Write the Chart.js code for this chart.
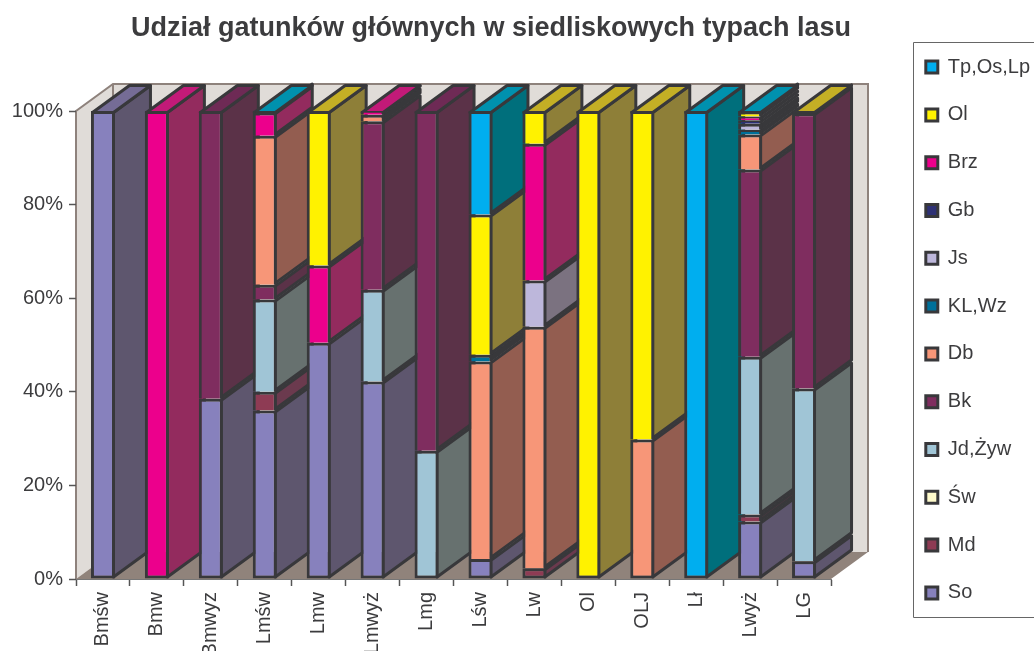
<!DOCTYPE html>
<html><head><meta charset="utf-8">
<style>html,body{margin:0;padding:0;background:#fff;overflow:hidden}canvas{display:block}</style>
<script src="https://cdn.jsdelivr.net/npm/chart.js@4"></script>
</head><body><canvas id="c" width="1034" height="651"></canvas>
<script>
const categories=['Bmśw','Bmw','Bmwyz','Lmśw','Lmw','Lmwyż','Lmg','Lśw','Lw','Ol','OLJ','Lł','Lwyż','LG'];
const seriesNames=['So','Md','Św','Jd,Żyw','Bk','Db','KL,Wz','Js','Gb','Brz','Ol','Tp,Os,Lp'];
const So =[100,0,38.5,36,50.5,42.2,0,4.3,0,0,0,0,12.3,3.8];
const Md =[0,0,0,4,0,0,0,0,2.3,0,0,0,1.5,0];
const Sw =[0,0,0,0,0,0,0,0,0,0,0,0,0,0];
const JdZyw=[0,0,0,19.7,0,19.6,27.4,0,0,0,0,0,33.7,36.9];
const Bk =[0,0,61.5,3.2,0,36,72.6,0,0,0,0,0,40,58.8];
const Db =[0,0,0,31.8,0,1.4,0,42.2,51.6,0,29.8,0,7.5,0];
const KLWz=[0,0,0,0,0,0,0,1.4,0,0,0,0,1,0];
const Js =[0,0,0,0,0,0,0,0,9.9,0,0,0,1.3,0];
const Gb =[0,0,0,0,0,0,0,0,0,0,0,0,0.7,0];
const Brz=[0,100,0,5,16.5,0.8,0,0,29.2,0,0,0,0.8,0];
const Ol =[0,0,0,0,33,0,0,30,7,100,70.2,0,0.9,0.5];
const Tp =[0,0,0,0.3,0,0,0,22.1,0,0,0,100,0.3,0];
const seriesValues=[So,Md,Sw,JdZyw,Bk,Db,KLWz,Js,Gb,Brz,Ol,Tp];
const frontColors=['#8781BD','#8E3B54','#FFFBCC','#A0C5D6','#7F2D5F','#F79678','#00709A','#BDB7DB','#2E3175','#EC008C','#FFF200','#00AEEF'];
const sideColors =['#5E566E','#6B3A4E','#8E8A70','#67716F','#5B3248','#935D50','#005A6E','#7B7280','#2B2B50','#932B5E','#8E7F38','#006F7C'];
const topColors  =['#756C96','#7A3348','#C8C4A0','#84A0AC','#6E2A55','#C47A60','#005E70','#9A94B0','#2A2A60','#C21A78','#C4AF25','#0091AE'];
const yTicks=[0,20,40,60,80,100];
const edge='#38383B';
const depthX=37, depthY=-27, lineW=3;

const threeD={
 id:'threeD',
 afterLayout(ch){
  const l=ch.legend; const shiftX=898;
  l.left=shiftX; l.width=136; l.right=shiftX+l.width; l.top=4.5; l.bottom=655.5;
  const t=ch.titleBlock; t.left=0; t.right=982;
 },
 beforeDraw(ch){
  const c=ch.ctx,a=ch.chartArea;
  c.save();
  c.fillStyle='#E0DCD8';
  c.fillRect(a.left+depthX,a.top+depthY,a.width,a.height);
  c.beginPath();c.moveTo(a.left,a.top);c.lineTo(a.left+depthX,a.top+depthY);c.lineTo(a.left+depthX,a.bottom+depthY);c.lineTo(a.left,a.bottom);c.closePath();c.fill();
  c.fillStyle='#90837B';
  c.beginPath();c.moveTo(a.left,a.bottom);c.lineTo(a.right,a.bottom);c.lineTo(a.right+depthX,a.bottom+depthY);c.lineTo(a.left+depthX,a.bottom+depthY);c.closePath();c.fill();
  c.strokeStyle='#8E827C';c.lineWidth=2;c.lineJoin='miter';
  c.beginPath();c.moveTo(a.left,a.bottom);c.lineTo(a.left,a.top);c.lineTo(a.left+depthX,a.top+depthY);c.lineTo(a.right+depthX,a.top+depthY);c.lineTo(a.right+depthX,a.bottom+depthY);c.stroke();
  c.beginPath();c.moveTo(a.left+depthX,a.top+depthY);c.lineTo(a.left+depthX,a.bottom+depthY);c.stroke();
  c.strokeStyle='#666';c.lineWidth=1;
  c.beginPath();c.moveTo(1040,42.5);c.lineTo(913.5,42.5);c.lineTo(913.5,617.5);c.lineTo(1040,617.5);c.stroke();
  c.restore();
 },
 beforeDatasetsDraw(ch){
  const c=ch.ctx; c.save();
  c.strokeStyle=edge;c.lineWidth=lineW;c.lineJoin='round';
  const n=categories.length;
  for(let i=0;i<n;i++){
   let topSeries=-1;
   seriesValues.forEach((s,k)=>{ if(s[i]>0) topSeries=k; });
   seriesValues.forEach((s,k)=>{
    if(!(s[i]>0)) return;
    const e=ch.getDatasetMeta(k).data[i];
    const R=e.x+e.width/2-lineW/2, L=e.x-e.width/2+lineW/2, T=e.y+lineW/2, B=e.base-lineW/2;
    c.fillStyle=sideColors[k];
    c.beginPath();c.moveTo(R,T);c.lineTo(R+depthX,T+depthY);c.lineTo(R+depthX,B+depthY);c.lineTo(R,B);c.closePath();c.fill();c.stroke();
    if(k===topSeries){
     c.fillStyle=topColors[k];
     c.beginPath();c.moveTo(L,T);c.lineTo(L+depthX,T+depthY);c.lineTo(R+depthX,T+depthY);c.lineTo(R,T);c.closePath();c.fill();c.stroke();
    }
   });
  }
  c.restore();
 }
};

const datasets=seriesNames.map((name,k)=>({
 label:name,
 data:seriesValues[k].map(v=>v>0?v:null),
 backgroundColor(ctx){
  const v=seriesValues[k][ctx.dataIndex];
  return (ctx.type==='data'&&v>0&&v<0.7)?edge:frontColors[k];
 },
 borderColor:edge,
 borderWidth:lineW,
 inflateAmount:0,
 borderSkipped(ctx){
  const i=ctx.dataIndex;
  for(let j=0;j<k;j++){ if(seriesValues[j][i]>0) return 'bottom'; }
  return false;
 },
 barThickness:24,
 stack:'s'
}));

new Chart(document.getElementById('c'),{
 type:'bar',
 plugins:[threeD],
 data:{labels:categories,datasets},
 options:{
  responsive:false,animation:false,
  devicePixelRatio:1,
  layout:{padding:{left:0,right:103,top:0,bottom:0}},
  plugins:{
   title:{display:true,text:'Udział gatunków głównych w siedliskowych typach lasu',
    color:'#3C3C3E',font:{family:'"Liberation Sans"',size:27,weight:'bold',lineHeight:1.2},
    padding:{top:12,bottom:66.6}},
   legend:{display:true,position:'right',maxWidth:100,reverse:true,
    labels:{boxWidth:12,boxHeight:12,padding:27.8,color:'#3C3C3E',font:{family:'"Liberation Sans"',size:20},
     generateLabels(ch){
      return seriesNames.map((name,k)=>({text:name,fillStyle:frontColors[k],strokeStyle:edge,lineWidth:lineW,fontColor:'#3C3C3E',datasetIndex:k,hidden:false}));
     }}},
   tooltip:{enabled:false}
  },
  scales:{
   x:{stacked:true,offset:true,
    afterFit(s){s.height=72;},
    grid:{offset:true,drawOnChartArea:false,drawTicks:true,tickLength:7,tickColor:'#555',tickWidth:1.5},
    border:{display:true,color:'#777',width:1},
    ticks:{autoSkip:false,minRotation:90,maxRotation:90,padding:6,color:'#3C3C3E',font:{family:'"Liberation Sans"',size:20}}},
   y:{stacked:true,min:0,max:100,
    afterFit(s){s.width=76;},
    afterBuildTicks(s){s.ticks=yTicks.map(v=>({value:v}));},
    grid:{drawOnChartArea:false,drawTicks:true,tickLength:7,tickColor:'#555',tickWidth:1.5},
    border:{display:false},
    ticks:{padding:6,color:'#3C3C3E',font:{family:'"Liberation Sans"',size:20},callback:v=>v+'%'}}
  }
 }
});
</script></body></html>
